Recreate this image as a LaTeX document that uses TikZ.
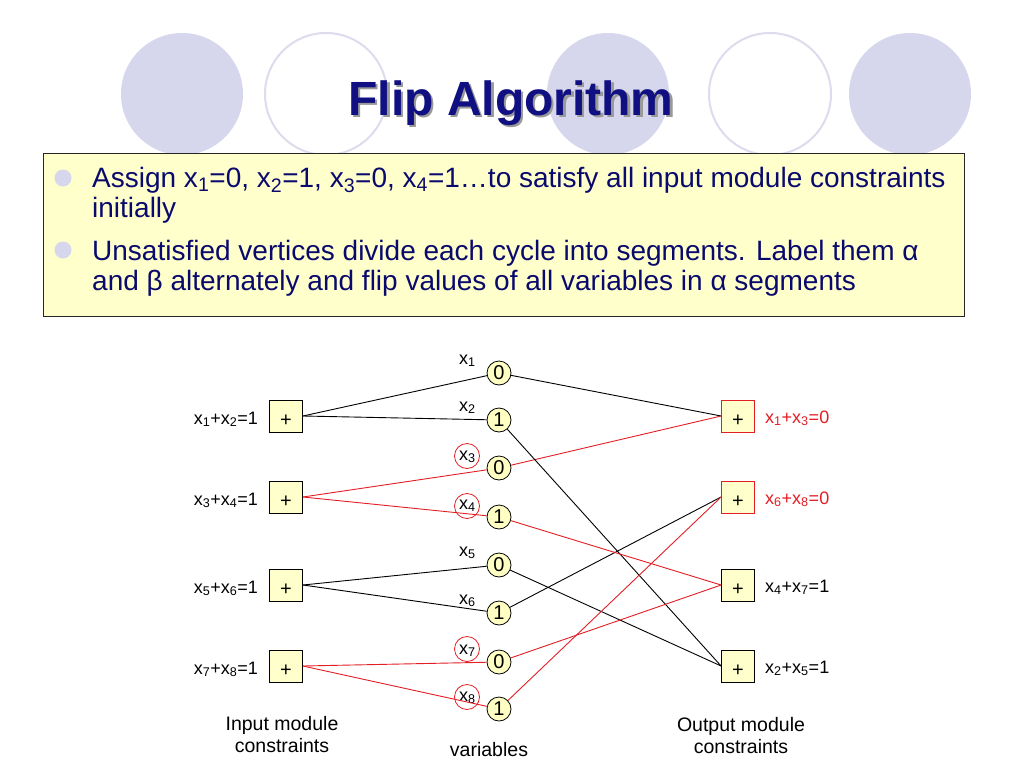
\documentclass[tikz,border=0pt]{standalone}
\usepackage{fontspec}
\setmainfont{Liberation Sans}
\definecolor{lav}{RGB}{214,214,236}
\definecolor{lavline}{RGB}{220,220,238}
\definecolor{navy}{RGB}{16,16,130}
\definecolor{txtblue}{RGB}{10,10,110}
\definecolor{boxfill}{RGB}{255,255,204}
\definecolor{nodefill}{RGB}{255,255,196}
\definecolor{rd}{RGB}{228,30,36}
\newcommand{\pluss}{\raisebox{-10.5pt}[0pt][0pt]{+}}
\begin{document}
\begin{tikzpicture}[x=1pt,y=-1pt,
  var/.style={circle, draw=black, fill=nodefill, line width=0.8pt, minimum size=24pt, inner sep=0pt, font=\fontsize{20}{20}\selectfont},
  plusbox/.style={rectangle, draw=black, fill=boxfill, line width=0.8pt, minimum width=33pt, minimum height=32pt, inner sep=0pt, font=\fontsize{20}{20}\selectfont},
  redbox/.style={plusbox, draw=rd},
  wire/.style={line width=0.9pt, draw=black},
  rwire/.style={line width=0.9pt, draw=rd},
  lbl/.style={font=\fontsize{18}{18}\selectfont, inner sep=0pt},
  hilite/.style={circle, draw=rd, line width=0.8pt, minimum size=25pt, inner sep=0pt},
  bodytxt/.style={font=\fontsize{28}{30}\selectfont, text=txtblue, inner sep=0pt, anchor=base west},
  caption/.style={font=\fontsize{19.5}{21.5}\selectfont, inner sep=0pt, align=center}
]
\useasboundingbox (0,0) rectangle (1024,768);
\fill[white] (0,0) rectangle (1024,768);
% decorative circles
\fill[lav] (182,94) circle (61pt);
\draw[lavline, line width=2pt] (326,94) circle (61pt);
\fill[lav] (608,94) circle (61pt);
\draw[lavline, line width=2pt] (770,94) circle (61pt);
\fill[lav] (910,94) circle (61pt);
% title
\node[font=\fontsize{48}{48}\selectfont\bfseries, text=black!40, anchor=base, inner sep=0pt] (titleshadow) at (513.5,117.5) {Flip Algorithm};
\node[font=\fontsize{48}{48}\selectfont\bfseries, text=navy, anchor=base, inner sep=0pt] (title) at (511,115) {Flip Algorithm};
% text box
\draw[fill=boxfill, draw=black!85, line width=1pt] (43,153) rectangle (964,316);
\fill[lav] (63,178) circle (8.5pt);
\fill[lav] (63,250) circle (8.5pt);
\node[bodytxt] (t1) at (92,187) {Assign x\textsubscript{1}=0, x\textsubscript{2}=1, x\textsubscript{3}=0, x\textsubscript{4}=1…to satisfy all input module constraints};
\node[bodytxt] (t2) at (92,217) {initially};
\node[bodytxt] (t3) at (92,260) {Unsatisfied vertices divide each cycle into segments. Label them α};
\node[bodytxt] (t4) at (92,290) {and β alternately and flip values of all variables in α segments};
% left boxes
\node[plusbox] (L1) at (286,416) {\pluss};
\node[plusbox] (L2) at (286,497) {\pluss};
\node[plusbox] (L3) at (286,585) {\pluss};
\node[plusbox] (L4) at (286,666) {\pluss};
\node[lbl, anchor=base east] (LL1) at (258,424) {x\textsubscript{1}+x\textsubscript{2}=1};
\node[lbl, anchor=base east] (LL2) at (258,505) {x\textsubscript{3}+x\textsubscript{4}=1};
\node[lbl, anchor=base east] (LL3) at (258,593) {x\textsubscript{5}+x\textsubscript{6}=1};
\node[lbl, anchor=base east] (LL4) at (258,674) {x\textsubscript{7}+x\textsubscript{8}=1};
% right boxes
\node[redbox] (R1) at (738,416) {\pluss};
\node[redbox] (R2) at (738,497) {\pluss};
\node[plusbox] (R3) at (738,585) {\pluss};
\node[plusbox] (R4) at (738,666) {\pluss};
\node[lbl, anchor=base west, text=rd] (RL1) at (765,423) {x\textsubscript{1}+x\textsubscript{3}=0};
\node[lbl, anchor=base west, text=rd] (RL2) at (765,504) {x\textsubscript{6}+x\textsubscript{8}=0};
\node[lbl, anchor=base west] (RL3) at (765,592) {x\textsubscript{4}+x\textsubscript{7}=1};
\node[lbl, anchor=base west] (RL4) at (765,673) {x\textsubscript{2}+x\textsubscript{5}=1};
% variables
\node[var] (V1) at (499,373) {0};
\node[var] (V2) at (499,420) {1};
\node[var] (V3) at (499,468) {0};
\node[var] (V4) at (499,517) {1};
\node[var] (V5) at (499,565) {0};
\node[var] (V6) at (499,613) {1};
\node[var] (V7) at (499,662) {0};
\node[var] (V8) at (499,709) {1};
\node[lbl, anchor=base west] (X1) at (459,364) {x\textsubscript{1}};
\node[lbl, anchor=base west] (X2) at (459,411) {x\textsubscript{2}};
\node[lbl, anchor=base west] (X3) at (459,460) {x\textsubscript{3}};
\node[lbl, anchor=base west] (X4) at (459,509) {x\textsubscript{4}};
\node[lbl, anchor=base west] (X5) at (459,556) {x\textsubscript{5}};
\node[lbl, anchor=base west] (X6) at (459,604) {x\textsubscript{6}};
\node[lbl, anchor=base west] (X7) at (459,654) {x\textsubscript{7}};
\node[lbl, anchor=base west] (X8) at (459,701) {x\textsubscript{8}};
\node[hilite] (H3) at (467,456) {};
\node[hilite] (H4) at (467,506) {};
\node[hilite] (H7) at (467,649) {};
\node[hilite] (H8) at (467,697) {};
% left wires
\draw[wire] (L1.east) -- (V1);
\draw[wire] (L1.east) -- (V2);
\draw[rwire] (L2.east) -- (V3);
\draw[rwire] (L2.east) -- (V4);
\draw[wire] (L3.east) -- (V5);
\draw[wire] (L3.east) -- (V6);
\draw[rwire] (L4.east) -- (V7);
\draw[rwire] (L4.east) -- (V8);
% right wires
\draw[wire] (V1) -- (R1.west);
\draw[rwire] (V3) -- (R1.west);
\draw[wire] (V2) -- (R4.west);
\draw[wire] (V5) -- (R4.west);
\draw[wire] (V6) -- (R2.west);
\draw[rwire] (V8) -- (R2.west);
\draw[rwire] (V4) -- (R3.west);
\draw[rwire] (V7) -- (R3.west);
% captions
\node[caption, anchor=base] (capin) at (282,752) {Input module\\constraints};
\node[caption, anchor=base] (capvar) at (489,756) {variables};
\node[caption, anchor=base] (capout) at (741,753) {Output module\\constraints};
\end{tikzpicture}
\end{document}
